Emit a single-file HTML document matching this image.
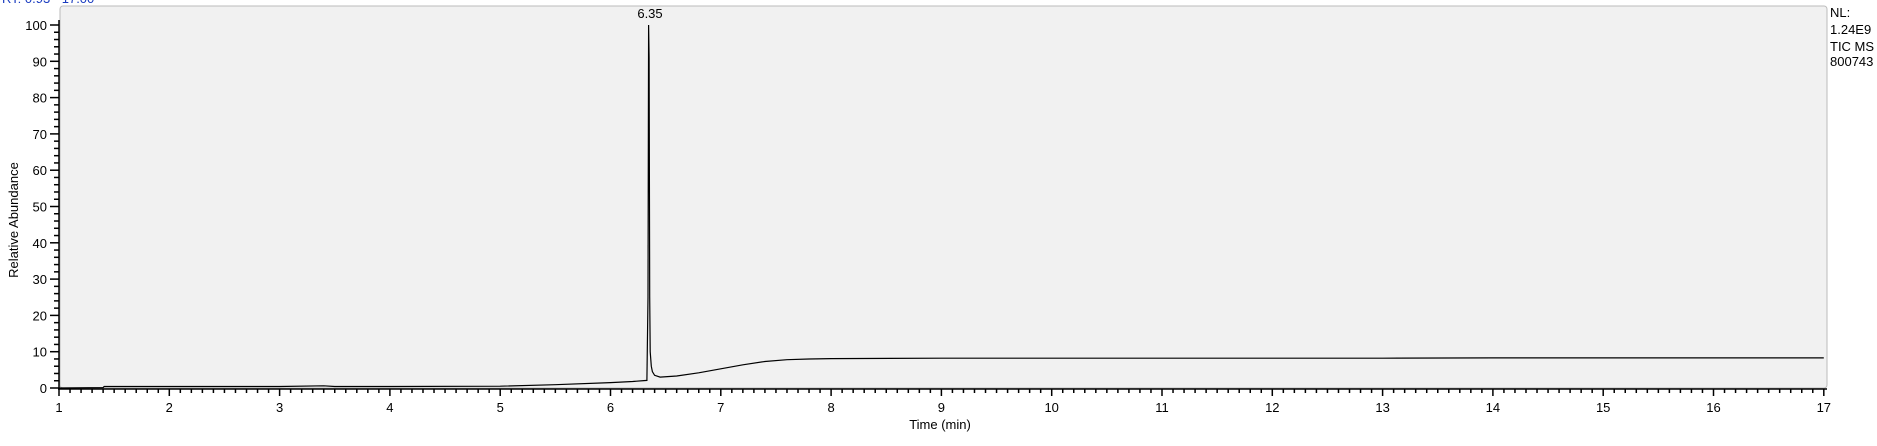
<!DOCTYPE html>
<html><head><meta charset="utf-8"><style>
body{margin:0;background:#fff;width:1877px;height:441px;overflow:hidden;font-family:"Liberation Sans",Arial,sans-serif}
svg text{font-family:"Liberation Sans",Arial,sans-serif}
</style></head><body>
<svg id="chart" width="1877" height="441" viewBox="0 0 1877 441">
<text x="2" y="3" font-size="13" fill="#1a3cc0">RT: 0.93 - 17.00</text>
<rect x="60" y="6" width="1767" height="382" fill="#f1f1f1" stroke="#bbb" stroke-width="1" rx="3"/>
<g id="axes"></g>
<path id="trace" fill="none" stroke="#000" stroke-width="1.2"/>
<text x="650" y="18" font-size="13" text-anchor="middle">6.35</text>
<text transform="translate(18,220) rotate(-90)" font-size="13" text-anchor="middle">Relative Abundance</text>
<text x="940" y="429" font-size="13" text-anchor="middle">Time (min)</text>
<g font-size="13">
<text x="1830" y="17">NL:</text>
<text x="1830" y="34">1.24E9</text>
<text x="1830" y="51">TIC  MS</text>
<text x="1830" y="66">800743</text>
</g>
</svg>
<script>
const times=[1,1.4,1.41,2,3,3.4,3.5,4,5,5.5,6,6.2,6.33,6.34,6.345,6.35,6.355,6.36,6.37,6.38,6.4,6.45,6.6,6.8,7,7.2,7.4,7.6,7.8,8,9,10,11,12,13,14,15,16,17];
const values=[0,0.1,0.4,0.4,0.4,0.6,0.4,0.4,0.5,0.9,1.5,1.8,2.1,25,100,91,25,10,6,4.5,3.5,3,3.3,4.2,5.3,6.4,7.3,7.8,8.0,8.1,8.2,8.2,8.2,8.2,8.2,8.3,8.3,8.3,8.3];
const xTicks=[1,2,3,4,5,6,7,8,9,10,11,12,13,14,15,16,17];
const yTicks=[0,10,20,30,40,50,60,70,80,90,100];
const X=t=>59+(t-1)*110.3, Y=v=>388-v*3.63;
const ns="http://www.w3.org/2000/svg", ax=document.getElementById('axes');
function line(x1,y1,x2,y2,name){const l=document.createElementNS(ns,'line');l.setAttribute('x1',x1);l.setAttribute('y1',y1);l.setAttribute('x2',x2);l.setAttribute('y2',y2);l.setAttribute('stroke','#000');l.setAttribute('stroke-width','1.5');


ax.appendChild(l);}
function txt(x,y,s,anc,name){const t=document.createElementNS(ns,'text');t.setAttribute('x',x);t.setAttribute('y',y);t.setAttribute('font-size','13');t.setAttribute('text-anchor',anc);t.textContent=s;


ax.appendChild(t);}
line(58,389,1827,389,'x-axis-line');line(59,20,59,389,'y-axis-line');
for(let i=0;i<=160;i++){const t=1+i*0.1;line(X(t),389,X(t),i%10==0?396:393,'x-tick');}
xTicks.forEach(t=>txt(X(t),412,String(t),'middle','x-tick-label'));
for(let i=0;i<=50;i++){const v=i*2;line(i%5==0?50:54,Y(v),59,Y(v),'y-tick');}
yTicks.forEach(v=>txt(47,Y(v)+5,String(v),'end','y-tick-label'));
let d='';times.forEach((t,i)=>{d+=(i?'L':'M')+X(t).toFixed(1)+' '+Y(values[i]).toFixed(1);});
document.getElementById('trace').setAttribute('d',d);
</script>
</body></html>
